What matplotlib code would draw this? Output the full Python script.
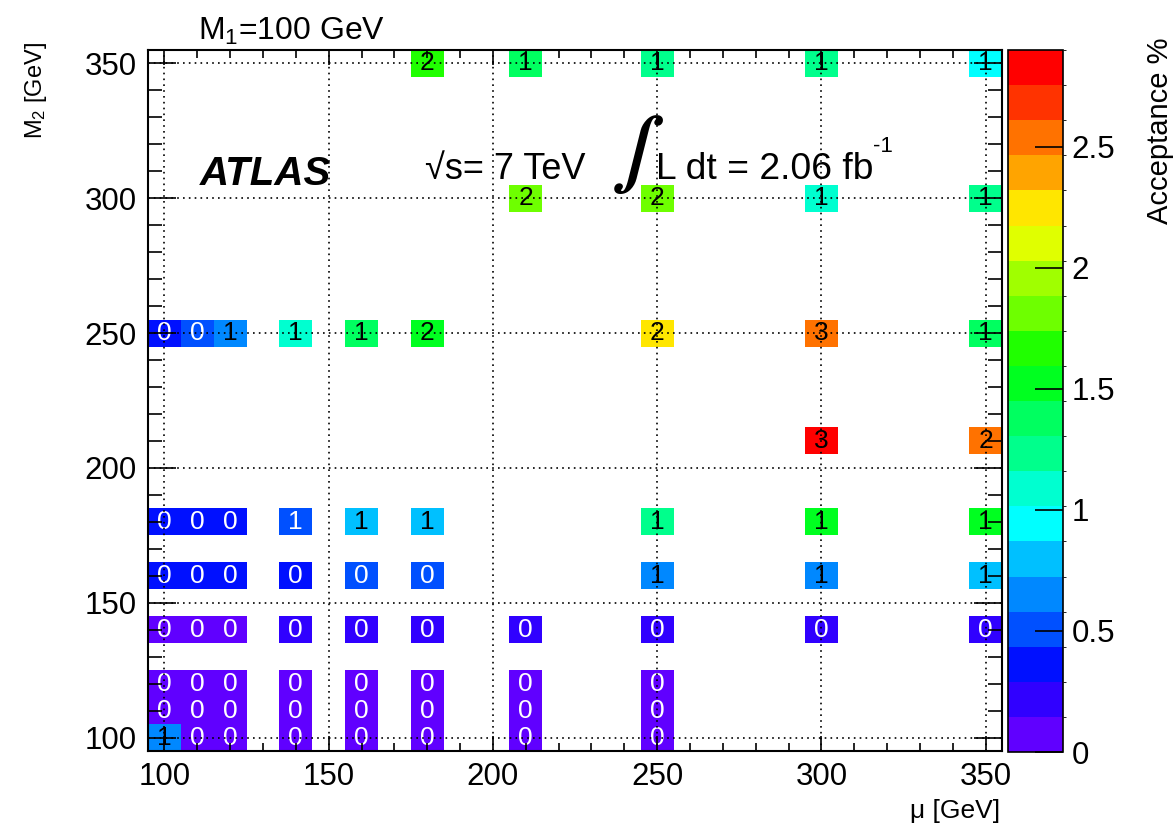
import numpy as np
import matplotlib.pyplot as plt
from matplotlib.colors import ListedColormap, BoundaryNorm
from matplotlib.ticker import MultipleLocator

plt.rcParams['font.family'] = ['Liberation Sans', 'DejaVu Sans']
plt.rcParams['mathtext.fontset'] = 'custom'
plt.rcParams['mathtext.rm'] = 'Liberation Sans'
plt.rcParams['mathtext.it'] = 'Liberation Sans:italic'
plt.rcParams['mathtext.bf'] = 'Liberation Sans:bold'

# grid points: higgsino mass parameter mu, wino mass M2, signal acceptance in %
mu_vals = [180, 210, 250, 300, 350,
           210, 250, 300, 350,
           100, 110, 120, 140, 160, 180, 250, 300, 350,
           300, 350,
           100, 110, 120, 140, 160, 180, 250, 300, 350,
           100, 110, 120, 140, 160, 180, 250, 300, 350,
           100, 110, 120, 140, 160, 180, 210, 250, 300, 350,
           100, 110, 120, 140, 160, 180, 210, 250,
           100, 110, 120, 140, 160, 180, 210, 250,
           100, 110, 120, 140, 160, 180, 210, 250]
m2_vals = [350] * 5 + [300] * 4 + [250] * 9 + [210] * 2 + [180] * 9 + \
          [160] * 9 + [140] * 10 + [120] * 8 + [110] * 8 + [100] * 8
acc_vals = [1.65, 1.40, 1.25, 1.30, 0.95,
            1.80, 1.80, 1.10, 1.20,
            0.35, 0.45, 0.65, 1.10, 1.38, 1.55, 2.25, 2.55, 1.40,
            2.90, 2.48,
            0.35, 0.35, 0.38, 0.54, 0.80, 0.82, 1.25, 1.47, 1.47,
            0.33, 0.33, 0.36, 0.42, 0.47, 0.48, 0.65, 0.68, 0.80,
            0.12, 0.13, 0.14, 0.22, 0.22, 0.22, 0.22, 0.22, 0.25, 0.25,
            0.08, 0.08, 0.08, 0.08, 0.08, 0.08, 0.08, 0.08,
            0.08, 0.08, 0.08, 0.08, 0.08, 0.08, 0.08, 0.08,
            0.62, 0.08, 0.08, 0.08, 0.08, 0.08, 0.08, 0.08]

palette = ['#6000ff', '#3000ff', '#0010ff', '#0050ff', '#0088ff',
           '#00c0ff', '#00ffff', '#00ffd0', '#00ff8c', '#00ff60',
           '#00ff20', '#20ff00', '#6eff00', '#a0ff00', '#e0ff00',
           '#ffe600', '#ffa400', '#ff7200', '#ff3300', '#ff0000']
cbar_ticks = [0, 0.5, 1, 1.5, 2, 2.5]
z_max = 2.9

W, H = 1173, 831


def fx(px):
    return px / W


def fy(py):
    return 1 - py / H


edges = np.arange(95, 356, 10)
grid = np.full((len(edges) - 1, len(edges) - 1), np.nan)
for x, y, z in zip(mu_vals, m2_vals, acc_vals):
    grid[int((y - 95) // 10), int((x - 95) // 10)] = z

levels = np.linspace(0, z_max, len(palette) + 1)
cmap = ListedColormap(palette)
norm = BoundaryNorm(levels, cmap.N)

fig = plt.figure(figsize=(W / 100, H / 100), dpi=100)
ax = fig.add_axes([fx(148), fy(751), fx(1002) - fx(148), fy(50) - fy(751)])
mesh = ax.pcolormesh(edges, edges, np.ma.masked_invalid(grid),
                     cmap=cmap, norm=norm, zorder=1)

# cell values, white on the dark end of the palette
for x, y, z in zip(mu_vals, m2_vals, acc_vals):
    dark = z < levels[4]
    ax.text(x, y, f"{z:.0f}", ha='center', va='center', fontsize=19,
            family=['Liberation Sans Narrow', 'Liberation Sans'],
            color='white' if dark else 'black', zorder=2)

ax.set_xlim(95, 355)
ax.set_ylim(95, 355)
ax.xaxis.set_major_locator(MultipleLocator(50))
ax.xaxis.set_minor_locator(MultipleLocator(10))
ax.yaxis.set_major_locator(MultipleLocator(50))
ax.yaxis.set_minor_locator(MultipleLocator(10))
ax.grid(True, which='major', color='black', linestyle=(0, (1, 2.5)),
        linewidth=1.2, zorder=3)
ax.set_axisbelow(False)
ax.tick_params(which='both', direction='in', top=True, right=True,
               labelsize=22.5, width=1.2, pad=8)
ax.tick_params(axis='x', which='major', length=11)
ax.tick_params(axis='x', which='minor', length=6)
ax.tick_params(axis='y', which='major', length=20)
ax.tick_params(axis='y', which='minor', length=10)
for s in ax.spines.values():
    s.set_linewidth(1.5)

# palette axis
cax = fig.add_axes([fx(1008), fy(752), fx(1063) - fx(1008), fy(50) - fy(752)])
cb = fig.colorbar(mesh, cax=cax, ticks=cbar_ticks)
cb.ax.set_yticklabels([f"{t:g}" for t in cbar_ticks])
cb.ax.tick_params(direction='in', length=20, width=1.2, labelsize=22.5, pad=6)
cb.outline.set_linewidth(1.2)

fig.text(fx(1160), fy(38), 'Acceptance %', rotation=90, ha='center',
         va='top', fontsize=21)
fig.text(fx(1000), fy(818), 'μ [GeV]', ha='right', va='baseline',
         fontsize=19)
fig.text(fx(36), fy(42), r'M$_{2}$ [GeV]', rotation=90, ha='center',
         va='top', fontsize=17)
fig.text(fx(198), fy(40), r'M$_{1}$=100 GeV', ha='left', va='baseline',
         fontsize=23)

fig.text(fx(200), fy(185), 'ATLAS', fontsize=29, fontweight='bold',
         fontstyle='italic', ha='left', va='baseline')
fig.text(fx(425), fy(179), '√s= 7 TeV', fontsize=26, ha='left',
         va='baseline')
fig.text(fx(612), fy(172), '∫', fontsize=50, ha='left', va='baseline',
         family=['STIXGeneral', 'DejaVu Serif'], fontweight='bold')
fig.text(fx(656), fy(179), 'L dt = 2.06 fb', fontsize=26.8,
         ha='left', va='baseline')
fig.text(fx(873), fy(152), '-1', fontsize=16, ha='left', va='baseline')

fig.savefig('out.png', dpi=100)
